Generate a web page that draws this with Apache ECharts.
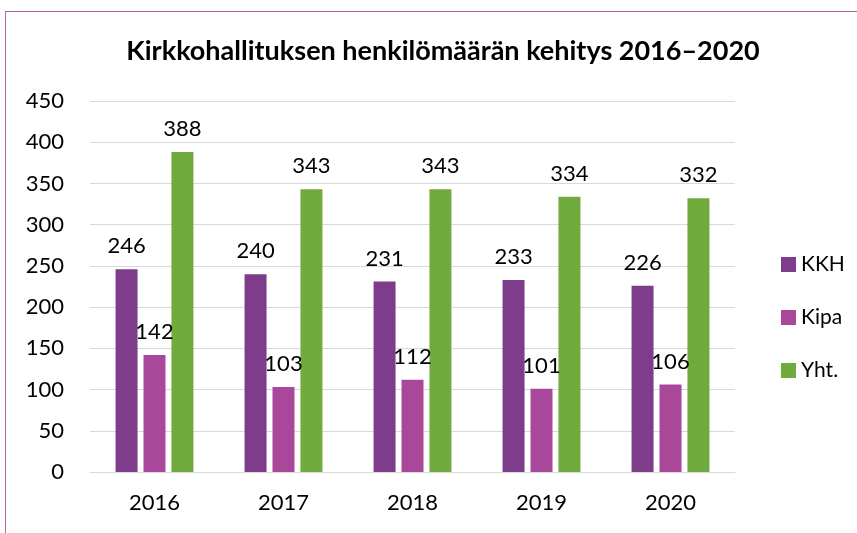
<!DOCTYPE html>
<html>
<head>
<meta charset="utf-8">
<script src="https://cdn.jsdelivr.net/npm/echarts@6/dist/echarts.min.js"></script>
<style>
  html, body { margin: 0; padding: 0; background: #fff; overflow: hidden; }
  #frame { position: absolute; left: 5px; top: 11px; width: 900px; height: 600px;
           border-top: 1px solid #b565b0; border-left: 1px solid #b565b0; }
  #main { position: absolute; left: 0; top: 0; width: 857px; height: 533px; }
</style>
</head>
<body>
<div id="frame"></div>
<div id="main"></div>
<script>
// vuodet ja henkilömäärät
const years = ['2016', '2017', '2018', '2019', '2020'];
const kkh = [246, 240, 231, 233, 226];
const kipa = [142, 103, 112, 101, 106];
const yht = [388, 343, 343, 334, 332];

const font = 'Lato';
const dom = document.getElementById('main');
const myChart = echarts.init(dom, null, { renderer: 'canvas' });

function bar(name, data, color) {
  return {
    name: name,
    type: 'bar',
    data: data,
    barWidth: 22,
    barGap: '27%',
    itemStyle: { color: color },
    label: {
      show: true,
      position: 'top',
      distance: 12,
      fontFamily: font,
      fontSize: 22,
      color: '#000'
    }
  };
}

myChart.setOption({
  animation: false,
  textStyle: { fontFamily: font },
  title: {
    text: 'Kirkkohallituksen henkilömäärän kehitys 2016–2020',
    left: 438,
    textAlign: 'center',
    top: 33,
    textStyle: { fontFamily: font, fontSize: 27, fontWeight: 'bold', color: '#000' }
  },
  legend: {
    orient: 'vertical',
    left: 776,
    top: 249,
    itemWidth: 15,
    itemHeight: 15,
    itemGap: 32,
    icon: 'rect',
    data: ['KKH', 'Kipa', 'Yht.'],
    textStyle: { fontFamily: font, fontSize: 21, color: '#000' }
  },
  grid: { left: 90, right: 122, top: 101, bottom: 61, containLabel: false },
  xAxis: {
    type: 'category',
    data: years,
    axisLine: { lineStyle: { color: '#d9d9d9', width: 1 } },
    axisTick: { show: false },
    axisLabel: { fontFamily: font, fontSize: 22, color: '#000', margin: 20 }
  },
  yAxis: {
    type: 'value',
    min: 0,
    max: 450,
    interval: 50,
    axisLine: { show: false },
    axisTick: { show: false },
    splitLine: { lineStyle: { color: '#d9d9d9', width: 1 } },
    axisLabel: { fontFamily: font, fontSize: 22, color: '#000', margin: 26 }
  },
  series: [
    bar('KKH', kkh, '#7e3d8b'),
    bar('Kipa', kipa, '#a9479b'),
    bar('Yht.', yht, '#71aa3d')
  ]
});
</script>
</body>
</html>
